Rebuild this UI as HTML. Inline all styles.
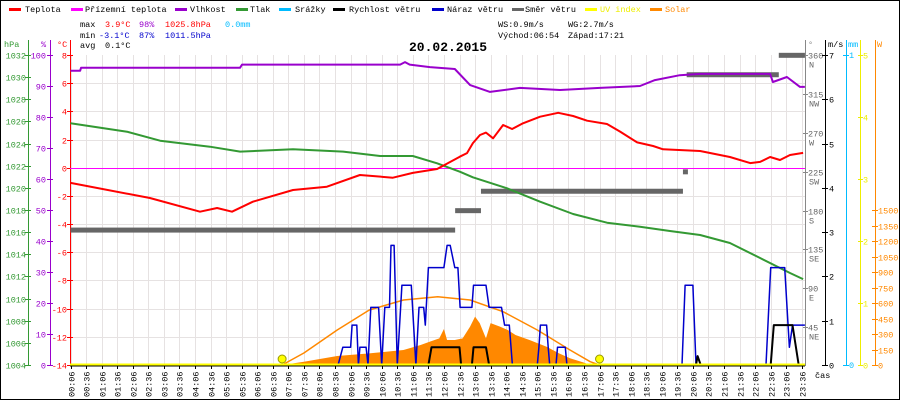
<!DOCTYPE html>
<html><head><meta charset="utf-8"><style>
body{margin:0;background:#fff}
svg{display:block;font-family:"Liberation Mono",monospace}
</style></head><body>
<svg id="chart" width="900" height="400" viewBox="0 0 900 400" xmlns="http://www.w3.org/2000/svg">
<rect x="0.5" y="0.5" width="899" height="399" fill="#fff" stroke="#000"/>
<g id="grid"></g>
<g id="legend" font-size="8.5">
 <g><rect x="9" y="8" width="12" height="3" fill="#f00"/><text x="25" y="12">Teplota</text></g>
 <g><rect x="71" y="8" width="12" height="3" fill="#f0f"/><text x="85" y="12">Přízemní teplota</text></g>
 <g><rect x="175" y="8" width="12" height="3" fill="#90c"/><text x="190" y="12">Vlhkost</text></g>
 <g><rect x="236" y="8" width="12" height="3" fill="#393"/><text x="250" y="12">Tlak</text></g>
 <g><rect x="279" y="8" width="12" height="3" fill="#0bf"/><text x="295" y="12">Srážky</text></g>
 <g><rect x="333" y="8" width="12" height="3" fill="#000"/><text x="349" y="12">Rychlost větru</text></g>
 <g><rect x="432" y="8" width="12" height="3" fill="#00c"/><text x="447" y="12">Náraz větru</text></g>
 <g><rect x="512" y="8" width="12" height="3" fill="#666"/><text x="525" y="12">Směr větru</text></g>
 <g><rect x="585" y="8" width="12" height="3" fill="#ff0"/><text x="600" y="12" fill="#ee0">UV index</text></g>
 <g><rect x="650" y="8" width="12" height="3" fill="#f80"/><text x="665" y="12" fill="#f80">Solar</text></g>
</g>
<g font-size="8.5">
 <text x="80" y="27">max</text><text x="105" y="27" fill="#f00">3.9°C</text><text x="139" y="27" fill="#90c">98%</text><text x="165" y="27" fill="#f00">1025.8hPa</text><text x="225" y="27" fill="#0bf">0.0mm</text>
 <text x="80" y="38">min</text><text x="99" y="38" fill="#00c">-3.1°C</text><text x="139" y="38" fill="#00c">87%</text><text x="165" y="38" fill="#00c">1011.5hPa</text>
 <text x="80" y="48">avg</text><text x="105" y="48">0.1°C</text>
 <text x="498" y="27">WS:0.9m/s</text><text x="568" y="27">WG:2.7m/s</text>
 <text x="498" y="38">Východ:06:54</text><text x="568" y="38">Západ:17:21</text>
</g>
<text x="448" y="51" font-size="13" font-weight="bold" text-anchor="middle">20.02.2015</text>
<g id="axes" font-size="8.5"></g>
<g id="series"></g>
<text x="815" y="378" font-size="8.5">čas</text>
</svg>
<script>
// ---- data ----
const tempTimes=[0.1,2.65,4.26,4.81,5.29,5.96,7.25,8.34,9.40,10.46,11.10,11.88,12.61,12.84,13.03,13.26,13.45,13.68,14.0,14.29,14.64,15.19,15.77,16.25,16.70,17.34,17.76,18.31,18.82,19.14,20.33,21.29,21.94,22.26,22.58,22.90,23.22,23.64];
const tempValues=[-1.08,-2.15,-3.12,-2.86,-3.12,-2.41,-1.58,-1.35,-0.52,-0.71,-0.37,-0.09,0.78,1.04,1.75,2.32,2.49,2.09,3.03,2.75,3.15,3.62,3.90,3.67,3.34,3.10,2.56,1.80,1.54,1.31,1.19,0.76,0.33,0.41,0.76,0.55,0.90,1.05];
const presTimes=[0.1,1.92,2.98,4.58,5.55,7.25,8.86,10.05,11.10,11.88,12.61,13.03,14.13,15.19,16.25,17.34,18.40,19.36,20.33,21.29,22.26,23.22,23.64];
const presValues=[1025.83,1025.07,1024.26,1023.72,1023.27,1023.48,1023.27,1022.88,1022.88,1022.22,1021.46,1020.95,1019.96,1018.75,1017.64,1016.85,1016.49,1016.10,1015.74,1015.02,1013.66,1012.31,1011.76];
const humTimes=[0.1,0.41,0.44,5.55,5.61,10.69,10.85,11.0,11.65,12.45,12.94,13.58,14.54,15.83,17.11,18.4,18.88,19.68,20.33,22.58,22.67,23.12,23.54,23.7];
const humValues=[94.9,94.9,95.9,95.9,96.9,96.9,97.7,96.9,96.1,95.5,90.3,88.1,89.4,88.7,89.4,90,91.9,93.5,93.9,93.9,91.3,92.9,89.7,89.7];
const dirStart=[0.1,12.46,13.29,19.78,19.9,22.86];
const dirEnd=[12.46,13.29,19.78,19.94,22.86,23.7];
const dirValues=[157.5,180,202.5,225,337.5,360];
const gustTimes=[8.7,8.85,9.1,9.15,9.3,9.35,9.4,9.6,9.66,9.75,10.0,10.1,10.2,10.35,10.4,10.5,10.6,10.75,11.05,11.2,11.3,11.45,11.5,11.6,12.1,12.2,12.3,12.45,12.55,12.62,13.0,13.05,13.45,13.55,13.95,14.05,14.2,14.3,15.1,15.15,15.2,15.4,15.45,15.5,15.7,15.75,16.0,16.05,19.75,19.85,20.1,20.2,22.45,22.6,23.05,23.15,23.2,23.3,23.7];
const gustValues=[0,0.4,0.4,0.9,0.9,0,0.4,0.4,0,1.3,1.3,0,1.3,1.3,2.7,2.7,0,1.8,1.8,0,1.3,1.3,0.9,2.2,2.2,2.7,2.7,2.2,2.2,1.3,1.3,1.8,1.8,1.3,1.3,0.9,0.9,0,0,0.4,0.9,0.9,0.4,0,0,0.4,0.4,0,0,1.8,1.8,0,0,2.2,2.2,1.0,0.4,0.9,0.9];
const speedTimes=[11.6,11.7,12.6,12.65,13.0,13.05,13.45,13.55,20.2,20.25,20.35,22.6,22.7,23.3,23.5];
const speedValues=[0,0.4,0.4,0,0,0.4,0.4,0,0,0.2,0,0,0.9,0.9,0];
const solarTimes=[6.9,7.6,8.67,9.7,10.8,11.35,11.65,11.95,12.1,12.2,12.45,12.7,12.94,13.1,13.25,13.45,13.6,13.9,14.15,14.4,14.85,15.4,15.8,16.15,16.6,16.8];
const solarValues=[0,32,87,113,145,194,226,258,348,242,242,258,371,468,405,258,405,371,339,290,242,177,113,65,23,0];
const solarMaxTimes=[6.9,7.6,8.67,9.7,10.8,11.9,12.94,14.0,15.1,16.15,16.8,17.1];
const solarMaxValues=[0,116,339,532,629,661,629,516,339,145,32,0];
const sunTimes=[6.9,17.1];
const tempTicks=[8,6,4,2,0,-2,-4,-6,-8,-10,-12,-14];
const humTicks=[100,90,80,70,60,50,40,30,20,10,0];
const presTicks=[1032,1030,1028,1026,1024,1022,1020,1018,1016,1014,1012,1010,1008,1006,1004];
const dirTicks=[360,315,270,225,180,135,90,45];
const dirNames=["N","NW","W","SW","S","SE","E","NE"];
const windTicks=[0,1,2,3,4,5,6,7];
const uvTicks=[0,1,2,3,4,5];
const solarTicks=[0,150,300,450,600,750,900,1050,1200,1350,1500];
// ---- scales ----
const X=h=>70.5+(h-0.1)*31.12;
const yT=t=>55+(8-t)*14.09;
const yH=p=>55+(100-p)*3.1;
const yP=p=>55+(1032-p)*11.07;
const yD=d=>366-d*0.863;
const yW=v=>365-v*44.29;
const yU=u=>365-u*62;
const yS=w=>365-w*0.1033;
const NS="http://www.w3.org/2000/svg";
function mk(tag,attrs,parent){const e=document.createElementNS(NS,tag);for(const k in attrs)e.setAttribute(k,attrs[k]);parent.appendChild(e);return e;}
const grid=document.getElementById('grid'),axes=document.getElementById('axes'),series=document.getElementById('series');
for(let k=0;k<48;k++){
 const h=0.1+k*0.5,x=Math.round(X(h))+0.5;
 const gl=mk('line',{x1:x,x2:x,y1:55,y2:365,stroke:'#e6e2e2'},grid);
 
 
 const tk=mk('line',{x1:x,x2:x,y1:365,y2:369,stroke:'#000'},axes);
 
 
 const mins=6+k*30,hh=Math.floor(mins/60),mm=mins%60;
 const lab=(hh<10?'0':'')+hh+':'+(mm<10?'0':'')+mm;
 const t=mk('text',{x:0,y:0,'font-size':8.5,transform:`translate(${x+3},${397}) rotate(-90)`},axes);
 t.textContent=lab;
 
 
}
tempTicks.forEach(v=>{
 const y=Math.round(yT(v))+0.5;
 if(v<8&&v>-14){const g=mk('line',{x1:70,x2:805,y1:y,y2:y,stroke:'#e6e2e2'},grid);
 
 }
 const t=mk('text',{x:67,y:y+3,'text-anchor':'end',fill:'#f00'},axes);t.textContent=v;
 
 
 mk('line',{x1:67,x2:73,y1:y,y2:y,stroke:'#f00'},axes);
});
humTicks.forEach(v=>{
 const y=Math.round(yH(v))+0.5;
 const t=mk('text',{x:46,y:y+3,'text-anchor':'end',fill:'#90c'},axes);t.textContent=v;
 
 
 mk('line',{x1:47,x2:53,y1:y,y2:y,stroke:'#90c'},axes);
});
presTicks.forEach(v=>{
 const y=Math.round(yP(v))+0.5;
 const t=mk('text',{x:26,y:y+3,'text-anchor':'end',fill:'#393'},axes);t.textContent=v;
 
 
 mk('line',{x1:25,x2:31,y1:y,y2:y,stroke:'#393'},axes);
});
dirTicks.forEach((v,i)=>{
 const y=Math.round(yD(v))+0.5;
 mk('line',{x1:803,x2:808,y1:y,y2:y,stroke:'#888'},axes);
 const t=mk('text',{x:808,y:y+3,fill:'#666'},axes);t.textContent=v;
 
 
 const n=mk('text',{x:809,y:y+12,fill:'#666'},axes);n.textContent=dirNames[i];
 
 
});
windTicks.forEach(v=>{
 const y=Math.round(yW(v))+0.5;
 mk('line',{x1:822,x2:828,y1:y,y2:y,stroke:'#000'},axes);
 const t=mk('text',{x:829,y:y+3},axes);t.textContent=v;
 
 
});
[[0,365],[1,55]].forEach(p=>{
 mk('line',{x1:843,x2:849,y1:p[1]+0.5,y2:p[1]+0.5,stroke:'#0bf'},axes);
 const t=mk('text',{x:849,y:p[1]+3,fill:'#0bf'},axes);t.textContent=p[0];
 
 
});
uvTicks.forEach(v=>{
 const y=Math.round(yU(v))+0.5;
 mk('line',{x1:858,x2:863,y1:y,y2:y,stroke:'#ee0'},axes);
 const t=mk('text',{x:863,y:y+3,fill:'#ee0'},axes);t.textContent=v;
 
 
});
solarTicks.forEach(v=>{
 const y=Math.round(yS(v))+0.5;
 mk('line',{x1:872,x2:878,y1:y,y2:y,stroke:'#f80'},axes);
 const t=mk('text',{x:878,y:y+3,fill:'#f80'},axes);t.textContent=v;
 
 
});
[[28.5,'#393','hPa',4],[50.5,'#90c','%',41],[70.5,'#f00','°C',57],[805.5,'#888','°',808],[825.5,'#000','m/s',828],[846.5,'#0bf','mm',848],[860.5,'#ee0','',0],[875.5,'#f80','W',877]].forEach(a=>{
 const l=mk('line',{x1:a[0],x2:a[0],y1:40,y2:366,stroke:a[1]},axes);
 
 
 if(a[2]){const t=mk('text',{x:a[3],y:47,fill:a[1]},axes);t.textContent=a[2];
 
 }
});
const z=mk('line',{x1:70,x2:805,y1:Math.round(yT(0))+0.5,y2:Math.round(yT(0))+0.5,stroke:'#f0f'},series);


let d='M'+X(solarTimes[0])+','+yS(0);
solarTimes.forEach((t,i)=>{d+=' L'+X(t)+','+yS(solarValues[i]);});
d+=' L'+X(solarTimes[solarTimes.length-1])+','+yS(0)+'Z';
const sa=mk('path',{d:d,fill:'#f80'},series);


function line(ts,vs,sc,col,w,name){
 const pts=ts.map((t,i)=>X(t).toFixed(1)+','+sc(vs[i]).toFixed(1)).join(' ');
 const p=mk('polyline',{points:pts,fill:'none',stroke:col,'stroke-width':w,'stroke-linejoin':'round'},series);
 
 
}
line(solarMaxTimes,solarMaxValues,yS,'#f80',1.5,'solar-max-line');
dirValues.forEach((v,i)=>{
 const r=mk('rect',{x:X(dirStart[i]),y:yD(v)-2.5,width:Math.max(X(dirEnd[i])-X(dirStart[i]),3),height:5,fill:'#666'},series);
 
 
});
line(presTimes,presValues,yP,'#393',2,'pressure-line');
line(humTimes,humValues,yH,'#90c',2,'humidity-line');
line(tempTimes,tempValues,yT,'#f00',2,'temperature-line');
line(gustTimes,gustValues,yW,'#00c',1.5,'wind-gust-line');
line(speedTimes,speedValues,yW,'#000',2,'wind-speed-line');
const uv=mk('line',{x1:70,x2:805,y1:364.5,y2:364.5,stroke:'#ff0','stroke-width':2},series);


const base=mk('line',{x1:70,x2:805,y1:366,y2:366,stroke:'#000'},series);


sunTimes.forEach(t=>{
 const c=mk('circle',{cx:X(t),cy:359,r:4,fill:'#ff0',stroke:'#990'},series);
 
 
});
</script>
</body></html>
